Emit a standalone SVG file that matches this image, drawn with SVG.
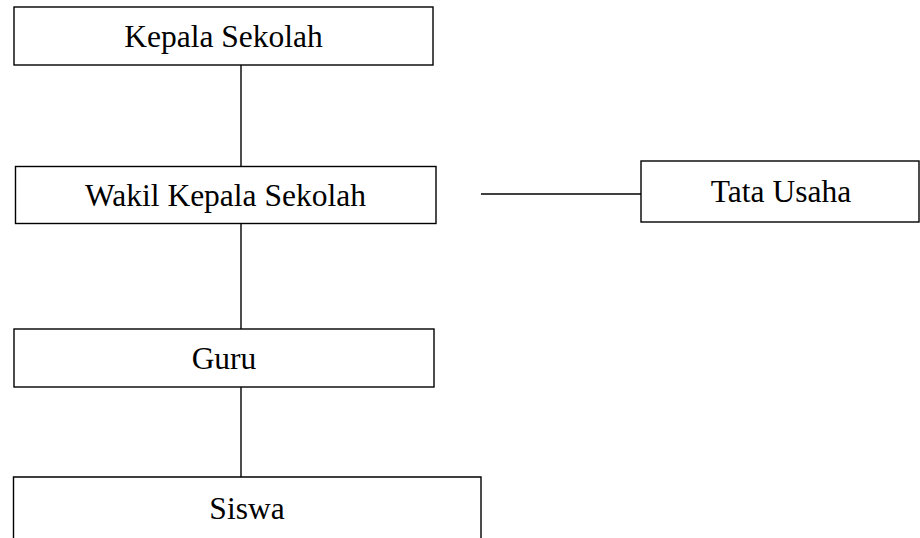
<svg xmlns="http://www.w3.org/2000/svg" width="920" height="538" viewBox="0 0 920 538">
<style>
.box{fill:#fff;stroke:#000;stroke-width:1.4}
.lbl{font-family:"Liberation Serif","Times New Roman",serif;font-size:31.5px;fill:#000;text-anchor:middle}
.conn{stroke:#000;stroke-width:1.4;fill:none}
</style>
<rect width="920" height="538" fill="#fff"/>
<g id="connectors">
<line class="conn" x1="241" y1="65" x2="241" y2="166"/>
<line class="conn" x1="241" y1="224" x2="241" y2="329"/>
<line class="conn" x1="241" y1="387" x2="241" y2="477"/>
<line class="conn" x1="481" y1="194" x2="641" y2="194"/>
</g>
<g id="kepala">
<rect class="box" x="14" y="7" width="419" height="58"/>
<text class="lbl" x="223.5" y="47">Kepala Sekolah</text>
</g>
<g id="wakil">
<rect class="box" x="15.5" y="166.5" width="420.5" height="57"/>
<text class="lbl" x="225.5" y="206">Wakil Kepala Sekolah</text>
</g>
<g id="tatausaha">
<rect class="box" x="641" y="161" width="278" height="61"/>
<text class="lbl" x="781" y="202">Tata Usaha</text>
</g>
<g id="guru">
<rect class="box" x="14" y="329" width="420" height="58"/>
<text class="lbl" x="224" y="369">Guru</text>
</g>
<g id="siswa">
<path class="box" d="M13.5,538 V477 H481 V538"/>
<text class="lbl" x="247" y="519">Siswa</text>
</g>
</svg>
